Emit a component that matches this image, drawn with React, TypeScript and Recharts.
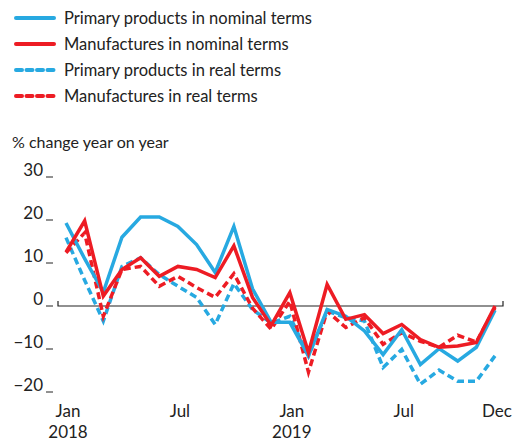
import React from 'react';
import { LineChart, Line, XAxis, YAxis, ReferenceLine } from 'recharts';

const months = [
  '2018-01', '2018-02', '2018-03', '2018-04', '2018-05', '2018-06',
  '2018-07', '2018-08', '2018-09', '2018-10', '2018-11', '2018-12',
  '2019-01', '2019-02', '2019-03', '2019-04', '2019-05', '2019-06',
  '2019-07', '2019-08', '2019-09', '2019-10', '2019-11', '2019-12',
];

const primaryNominal = [19.3, 11, 3.2, 16, 20.7, 20.7, 18.5, 14.3, 7.8, 18.5, 4, -3.8, -3.8, -11.6, -0.8, -2.4, -5.8, -11.3, -5.5, -13.6, -9.9, -12.8, -9.6, -1];
const manufNominal = [12.5, 19.8, 2.3, 8.5, 11.2, 6.9, 9.2, 8.5, 6.6, 14, 2, -4.5, 3.1, -10.8, 5, -3.1, -2, -6.4, -4.3, -7.8, -9.6, -9.3, -8.5, 0];
const primaryReal = [15.9, 6, -3.5, 9.2, 11.2, 7.3, 4.6, 2, -4.3, 5.2, -0.8, -4, -2.4, -11.6, -1.2, -2.7, -3.5, -14.3, -10.1, -18.2, -14.9, -17.5, -17.5, -11.6];
const manufReal = [12.4, 17, -2.4, 8.5, 9.2, 4.6, 6.9, 4.3, 2, 7.5, -0.5, -5.4, 1.1, -15.4, -1.2, -5, -2.7, -8.9, -6.2, -8.2, -9.6, -6.8, -8.4, -0.4];

const yTicks = [-20, -10, 0, 10, 20, 30];
const xLabels: Record<string, string[]> = {
  '2018-01': ['Jan', '2018'],
  '2018-07': ['Jul'],
  '2019-01': ['Jan', '2019'],
  '2019-07': ['Jul'],
  '2019-12': ['Dec'],
};

const BLUE = '#27a9e1';
const RED = '#ed1c24';
const TEXT = '#222222';
const FONT = 'Lato, "Noto Sans", sans-serif';

const legendItems = [
  { label: 'Primary products in nominal terms', color: BLUE, dashed: false },
  { label: 'Manufactures in nominal terms', color: RED, dashed: false },
  { label: 'Primary products in real terms', color: BLUE, dashed: true },
  { label: 'Manufactures in real terms', color: RED, dashed: true },
];

const data = months.map((month, i) => ({
  month,
  primaryNominal: primaryNominal[i],
  manufNominal: manufNominal[i],
  primaryReal: primaryReal[i],
  manufReal: manufReal[i],
}));

const LeftTick = ({ x, y, payload }: any) => {
  const v = payload.value;
  const label = v < 0 ? `\u2212${Math.abs(v)}` : `${v}`;
  return (
    <g>
      <text x={x - 15} y={y - 1} textAnchor="end" fontSize={17} fill={TEXT} fontFamily={FONT}>
        {label}
      </text>
      <line x1={x - 12} x2={x - 5} y1={y} y2={y} stroke={TEXT} strokeWidth={1} />
    </g>
  );
};

const RightTick = ({ x, y }: any) => (
  <line x1={x + 5} x2={x + 13} y1={y} y2={y} stroke={TEXT} strokeWidth={1} />
);

const BottomTick = ({ x, y, payload }: any) => {
  const lines = xLabels[payload.value];
  if (!lines) return null;
  return (
    <text x={x + 2} y={y} textAnchor="middle" fontSize={17} fill={TEXT} fontFamily={FONT}>
      {lines.map((t, i) => (
        <tspan key={i} x={x + 2} dy={i === 0 ? 25 : 21}>
          {t}
        </tspan>
      ))}
    </text>
  );
};

const ZeroLine = (props: any) => {
  const { x1, y1, x2 } = props;
  return (
    <path
      d={`M${x1},${y1 - 5} L${x1},${y1} L${x2},${y1} L${x2},${y1 - 5}`}
      fill="none"
      stroke={TEXT}
      strokeWidth={1.2}
    />
  );
};

export default function App() {
  return (
    <div style={{ position: 'absolute', left: 0, top: 0, width: 517, height: 441, fontFamily: FONT, color: TEXT }}>
      <div style={{ position: 'absolute', left: 14, top: 5 }}>
        {legendItems.map((item) => (
          <div key={item.label} style={{ display: 'flex', alignItems: 'center', height: 26 }}>
            <svg width={42} height={6} style={{ marginRight: 8 }}>
              <line
                x1={2}
                x2={40}
                y1={3}
                y2={3}
                stroke={item.color}
                strokeWidth={4}
                strokeLinecap="round"
                strokeDasharray={item.dashed ? '6 4.5' : undefined}
              />
            </svg>
            <span style={{ fontSize: 16.5 }}>{item.label}</span>
          </div>
        ))}
      </div>
      <div style={{ position: 'absolute', left: 12, top: 132, fontSize: 16 }}>% change year on year</div>
      <LineChart
        width={517}
        height={441}
        data={data}
        margin={{ top: 177, right: 0, bottom: 0, left: 0 }}
        style={{ position: 'absolute', left: 0, top: 0 }}
      >
        <XAxis
          dataKey="month"
          interval={0}
          axisLine={false}
          tickLine={false}
          height={49}
          padding={{ left: 8, right: 8 }}
          tick={<BottomTick />}
          tickSize={0}
          tickMargin={0}
        />
        <YAxis
          yAxisId="left"
          domain={[-20, 30]}
          ticks={yTicks}
          width={58}
          axisLine={false}
          tickLine={false}
          tickSize={0}
          tickMargin={0}
          tick={<LeftTick />}
        />
        <YAxis
          yAxisId="right"
          orientation="right"
          domain={[-20, 30]}
          ticks={yTicks}
          width={14}
          axisLine={false}
          tickLine={false}
          tickSize={0}
          tickMargin={0}
          tick={<RightTick />}
        />
        <ReferenceLine yAxisId="left" y={0} shape={<ZeroLine />} />
        <Line yAxisId="left" type="linear" dataKey="primaryReal" stroke={BLUE} strokeWidth={3.5} strokeDasharray="7 4" dot={false} isAnimationActive={false} />
        <Line yAxisId="left" type="linear" dataKey="manufReal" stroke={RED} strokeWidth={3.5} strokeDasharray="7 4" dot={false} isAnimationActive={false} />
        <Line yAxisId="left" type="linear" dataKey="primaryNominal" stroke={BLUE} strokeWidth={3.5} dot={false} isAnimationActive={false} />
        <Line yAxisId="left" type="linear" dataKey="manufNominal" stroke={RED} strokeWidth={3.5} dot={false} isAnimationActive={false} />
      </LineChart>
    </div>
  );
}
